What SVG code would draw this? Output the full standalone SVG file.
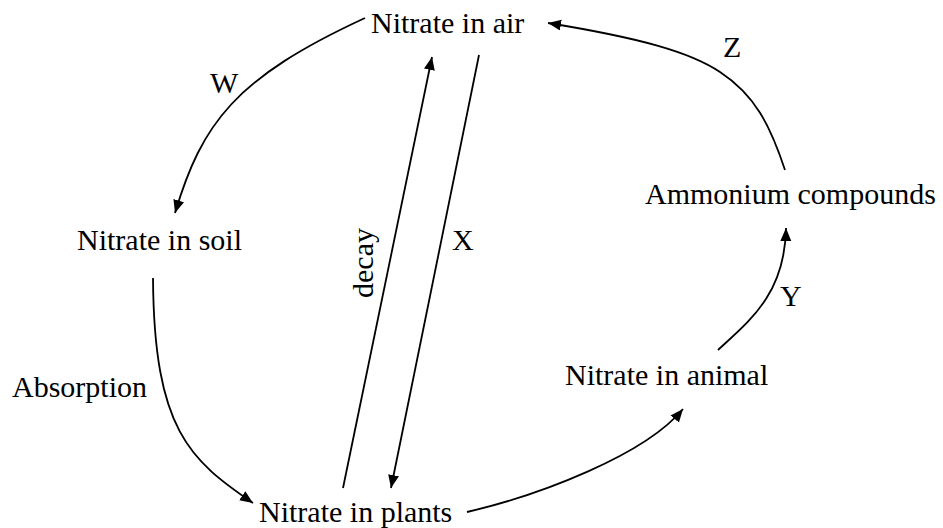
<svg xmlns="http://www.w3.org/2000/svg" width="943" height="528" viewBox="0 0 943 528">
<style>
.c{fill:none;stroke:#000;stroke-width:1.8;marker-end:url(#ah)}
.t{font-family:'Liberation Serif','Times New Roman',serif;font-size:30px;fill:#000}
</style>
<defs>
<marker id="ah" markerUnits="userSpaceOnUse" markerWidth="15" markerHeight="12" refX="13" refY="5.5" orient="auto" viewBox="0 0 15 12">
<path d="M0,0 L13,5.5 L0,11 z" fill="#000"/>
</marker>
</defs>
<rect width="943" height="528" fill="#fff"/>
<g id="connectors">
<path id="W" class="c" d="M365,18 C235,78 202,123 175,213"/>
<path id="absorption" class="c" d="M153,278 C154,430 190,460 253,503"/>
<path id="decay" class="c" d="M343,488 L432,57"/>
<path id="X" class="c" d="M479,55 L391,488"/>
<path id="eat" class="c" d="M467,512 C540,495 645,455 683,409"/>
<path id="Y" class="c" d="M718,350 C748,322 785,295 786,228"/>
<path id="Z" class="c" d="M785,170 C770,125 755,95 720,72 C690,52 640,38 548,23"/>
</g>
<g id="labels">
<text class="t" x="210" y="93">W</text>
<text class="t" x="452" y="250">X</text>
<text class="t" x="780" y="306">Y</text>
<text class="t" x="723" y="57">Z</text>
<text class="t" x="12" y="397">Absorption</text>
<text class="t" transform="translate(373,298) rotate(-90)">decay</text>
</g>
<g id="air"><text class="t" x="371" y="33">Nitrate in air</text></g>
<g id="soil"><text class="t" x="77" y="250">Nitrate in soil</text></g>
<g id="plants"><text class="t" x="259" y="522">Nitrate in plants</text></g>
<g id="animal"><text class="t" x="565" y="385">Nitrate in animal</text></g>
<g id="ammonium"><text class="t" x="645" y="204">Ammonium compounds</text></g>
</svg>
